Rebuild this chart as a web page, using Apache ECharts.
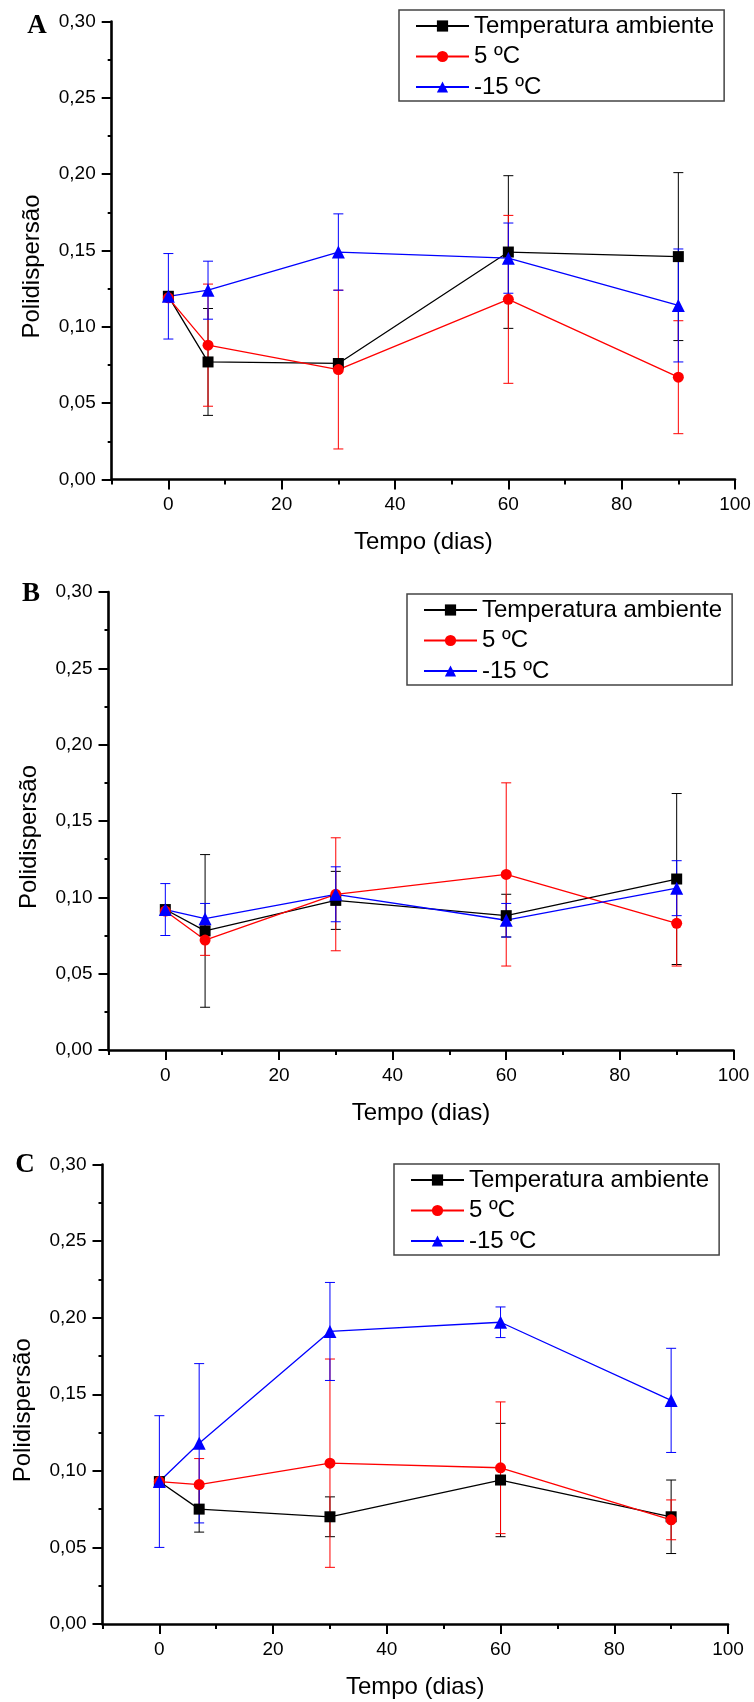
<!DOCTYPE html>
<html>
<head>
<meta charset="utf-8">
<script src="https://cdn.jsdelivr.net/npm/echarts@6/dist/echarts.min.js"></script>
<style>
  html, body { margin: 0; padding: 0; background: #ffffff; }
  #chart { width: 754px; height: 1702px; }
</style>
</head>
<body>
<div id="chart"></div>
<script>
// Sampling days and labels
const days = [0, 7, 30, 60, 90];
const seriesNames = ['Temperatura ambiente', '5 ºC', '-15 ºC'];
const panelLetters = ['A', 'B', 'C'];
const xLabelValues = [0, 20, 40, 60, 80, 100];
const xMinorValues = [-10, 10, 30, 50, 70, 90];

// Panel A: mean polydispersity and standard deviation
const ambienteA = [0.120, 0.077, 0.076, 0.149, 0.146];
const ambienteErrA = [0, 0.035, 0, 0.050, 0.055];
const cincoA = [0.119, 0.088, 0.072, 0.118, 0.067];
const cincoErrA = [0, 0.040, 0.052, 0.055, 0.037];
const menosQuinzeA = [0.120, 0.124, 0.149, 0.145, 0.114];
const menosQuinzeErrA = [0.028, 0.019, 0.025, 0.023, 0.037];

// Panel B
const ambienteB = [0.092, 0.078, 0.098, 0.088, 0.112];
const ambienteErrB = [0, 0.050, 0.019, 0.014, 0.056];
const cincoB = [0.091, 0.072, 0.102, 0.115, 0.083];
const cincoErrB = [0, 0.010, 0.037, 0.060, 0.028];
const menosQuinzeB = [0.092, 0.086, 0.102, 0.085, 0.106];
const menosQuinzeErrB = [0.017, 0.010, 0.018, 0.011, 0.018];

// Panel C
const ambienteC = [0.093, 0.075, 0.070, 0.094, 0.070];
const ambienteErrC = [0, 0.015, 0.013, 0.037, 0.024];
const cincoC = [0.093, 0.091, 0.105, 0.102, 0.068];
const cincoErrC = [0, 0.017, 0.068, 0.043, 0.013];
const menosQuinzeC = [0.093, 0.118, 0.191, 0.197, 0.146];
const menosQuinzeErrC = [0.043, 0.052, 0.032, 0.010, 0.034];

const panelData = [
  [[ambienteA, ambienteErrA], [cincoA, cincoErrA], [menosQuinzeA, menosQuinzeErrA]],
  [[ambienteB, ambienteErrB], [cincoB, cincoErrB], [menosQuinzeB, menosQuinzeErrB]],
  [[ambienteC, ambienteErrC], [cincoC, cincoErrC], [menosQuinzeC, menosQuinzeErrC]]
];

// Page layout of the three stacked panels
const panelLayout = [
  { left: 111.7, top: 21.5, width: 623.3, height: 458, legendLeft: 399, legendTop: 10, letterX: 37, letterY: 26 },
  { left: 108.5, top: 592, width: 625, height: 458, legendLeft: 407, legendTop: 594, letterX: 31, letterY: 594 },
  { left: 102.5, top: 1164.5, width: 625.5, height: 459.5, legendLeft: 394, legendTop: 1164, letterX: 25, letterY: 1165 }
];

const seriesStyle = [
  { color: '#000000', symbol: 'rect', size: 11 },
  { color: '#ff0000', symbol: 'circle', size: 11 },
  { color: '#0000ff', symbol: 'triangle', size: 13 }
];

const FONT = '"Liberation Sans", Arial, sans-serif';

function renderErrorBar(params, api) {
  const x = api.value(0);
  const lo = api.value(1);
  const hi = api.value(2);
  if (!(hi - lo > 0)) return;
  const top = api.coord([x, hi]);
  const bot = api.coord([x, lo]);
  const half = 5;
  const style = { stroke: api.visual('color'), lineWidth: 1 };
  return {
    type: 'group',
    children: [
      { type: 'line', shape: { x1: top[0], y1: top[1], x2: bot[0], y2: bot[1] }, style: style },
      { type: 'line', shape: { x1: top[0] - half, y1: top[1], x2: top[0] + half, y2: top[1] }, style: style },
      { type: 'line', shape: { x1: bot[0] - half, y1: bot[1], x2: bot[0] + half, y2: bot[1] }, style: style }
    ]
  };
}

const grid = [], xAxis = [], yAxis = [], series = [], legend = [], graphic = [];

panelLayout.forEach(function (p, i) {
  grid.push({ left: p.left, top: p.top, width: p.width, height: p.height, containLabel: false });

  // main x axis: line, labelled ticks, axis name
  xAxis.push({
    type: 'value', gridIndex: i, min: -10, max: 100, interval: 10, position: 'bottom',
    name: 'Tempo (dias)', nameLocation: 'middle', nameGap: 51,
    nameTextStyle: { fontFamily: FONT, fontSize: 24, color: '#000' },
    axisLine: { show: true, onZero: false, lineStyle: { color: '#000', width: 2.6 } },
    axisTick: { show: true, customValues: xLabelValues, length: 10, lineStyle: { color: '#000', width: 2 } },
    axisLabel: { show: true, customValues: xLabelValues, margin: 16, fontFamily: FONT, fontSize: 19, color: '#000' },
    splitLine: { show: false }
  });
  // companion x axis carrying only the short intermediate ticks
  xAxis.push({
    type: 'value', gridIndex: i, min: -10, max: 100, interval: 10, position: 'bottom',
    axisLine: { show: false, onZero: false },
    axisTick: { show: true, customValues: xMinorValues, length: 5, lineStyle: { color: '#000', width: 2 } },
    axisLabel: { show: false },
    splitLine: { show: false }
  });

  yAxis.push({
    type: 'value', gridIndex: i, min: 0, max: 0.3, interval: 0.05,
    name: 'Polidispersão', nameLocation: 'middle', nameGap: 67,
    nameTextStyle: { fontFamily: FONT, fontSize: 24, color: '#000', padding: [0, 32, 0, 0] },
    axisLine: { show: true, onZero: false, lineStyle: { color: '#000', width: 2.6 } },
    axisTick: { show: true, length: 10, lineStyle: { color: '#000', width: 2 } },
    minorTick: { show: true, splitNumber: 2, length: 4, lineStyle: { color: '#000', width: 2 } },
    axisLabel: {
      margin: 16, fontFamily: FONT, fontSize: 19, color: '#000',
      formatter: function (v) { return v.toFixed(2).replace('.', ','); }
    },
    splitLine: { show: false }
  });

  panelData[i].forEach(function (pair, k) {
    const means = pair[0], errs = pair[1];
    const st = seriesStyle[k];
    series.push({
      type: 'custom', xAxisIndex: 2 * i, yAxisIndex: i, z: 2,
      itemStyle: { color: st.color },
      renderItem: renderErrorBar,
      encode: { x: 0, y: [1, 2] },
      data: days.map(function (d, j) { return [d, means[j] - errs[j], means[j] + errs[j]]; }),
      silent: true
    });
    series.push({
      type: 'line', name: seriesNames[k], xAxisIndex: 2 * i, yAxisIndex: i, z: 3,
      symbol: st.symbol, symbolSize: st.size, showSymbol: true,
      lineStyle: { color: st.color, width: 1.3 },
      itemStyle: { color: st.color },
      data: days.map(function (d, j) { return [d, means[j]]; }),
      animation: false
    });
  });

  legend.push({
    data: seriesNames, orient: 'vertical', left: p.legendLeft, top: p.legendTop,
    padding: [4, 10, 2, 16], itemGap: 6.5, itemWidth: 53, itemHeight: 14,
    borderColor: '#444', borderWidth: 1.5, backgroundColor: '#fff',
    textStyle: { fontFamily: FONT, fontSize: 24, lineHeight: 24, color: '#000' },
    selectedMode: false
  });

  graphic.push({
    type: 'text', x: p.letterX, y: p.letterY,
    style: {
      text: panelLetters[i], fill: '#000', align: 'center', verticalAlign: 'middle',
      font: 'bold 27px "Liberation Serif", "Times New Roman", serif'
    }
  });
});

const chart = echarts.init(document.getElementById('chart'), null, { renderer: 'canvas' });
chart.setOption({
  backgroundColor: '#ffffff',
  animation: false,
  grid: grid,
  xAxis: xAxis,
  yAxis: yAxis,
  legend: legend,
  graphic: graphic,
  series: series
});
</script>
</body>
</html>
